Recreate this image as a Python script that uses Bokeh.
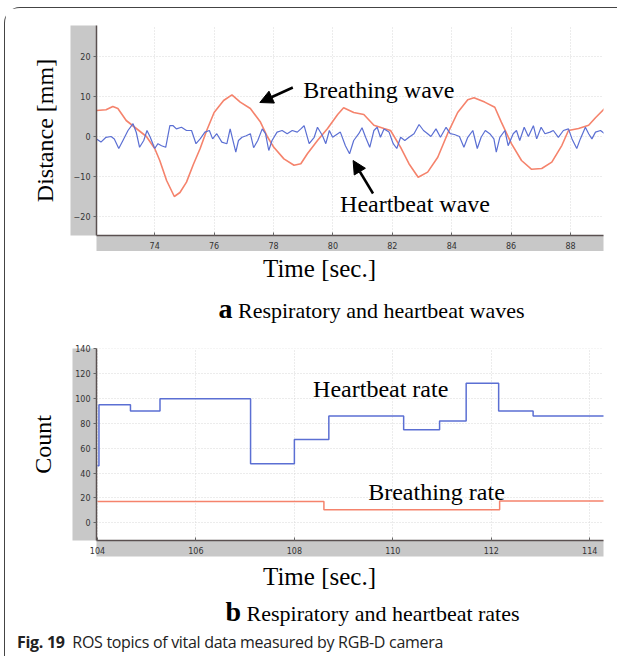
from bokeh.plotting import figure
from bokeh.models import LinearAxis, FixedTicker, Range1d, Div, Arrow, NormalHead, Label
from bokeh.layouts import column
from bokeh.embed import file_html
from bokeh.resources import INLINE

# ---------------- data: panel a (waves) ----------------
hb_wave_t = [72.04, 72.19, 72.36, 72.53, 72.64, 72.79, 72.93, 73.10, 73.27, 73.38, 73.49, 73.63, 73.74, 73.85,
             74.00, 74.11, 74.23, 74.37, 74.51, 74.62, 74.73, 74.90, 75.07, 75.24, 75.39, 75.53, 75.69, 75.84,
             75.95, 76.09, 76.26, 76.43, 76.54, 76.66, 76.73, 76.82, 76.94, 77.08, 77.22, 77.33, 77.47, 77.62,
             77.73, 77.84, 77.95, 78.12, 78.29, 78.46, 78.63, 78.80, 78.92, 79.03, 79.20, 79.37, 79.48, 79.65,
             79.76, 79.88, 79.99,
             80.25, 80.42, 80.56, 80.70, 80.87, 80.98, 81.10, 81.24, 81.38, 81.49, 81.60, 81.72, 81.89, 82.03,
             82.15, 82.28, 82.42, 82.56, 82.73, 82.90, 83.05, 83.19, 83.30, 83.47, 83.62, 83.81, 83.95, 84.09,
             84.26, 84.41, 84.54, 84.71, 84.86, 84.99, 85.13, 85.28, 85.42, 85.50, 85.62, 85.79, 85.90, 86.07,
             86.18, 86.29, 86.44, 86.58, 86.75, 86.86, 87.01, 87.14, 87.31, 87.42, 87.59, 87.76, 87.93, 88.05,
             88.21, 88.33, 88.50, 88.61, 88.72, 88.84, 89.01, 89.15]
hb_wave_v = [-0.6, -1.4, -0.2, 0, -0.6, -3, -1, 1.5, 3.2, 1, -2.7, -1, 1.5, -0.2,
             -3, -1.8, -2.3, -2.7, 2.7, 2.7, 1.9, 2.3, 1.5, 1.5, -1.8, -0.6, 1.1, 1.5,
             -0.6, 0.7, -1.4, -1.8, 1.9, -1.8, -3.9, -1, -0.2, 0.2, 0.7, -2.8, -1, 1.9,
             0.7, -3.5, -1, 1.1, 1.5, 0.7, 1.5, 1.1, 1.9, 2.7, -1.8, -0.2, 2.3, 0.2,
             -1.8, 1.5, -0.2,
             1.1, -2.3, -4.3, -1, 0.7, 2.2, -0.2, -2.7, 1.5, 2.3, -0.2, 1.9, 1.1, -1.8,
             -3, -0.2, -1, -0.2, 0.7, 3, 1.5, 0.7, 0, 1.9, -0.2, 2.3, 0.7, 0.5,
             0, -2.7, -0.2, 1.5, -3, -0.2, 1.5, 0.7, -0.6, -3.9, -0.2, 1.5, -2.3, 0.7,
             1.5, -1, 2.3, 0, 2.7, -0.6, 2.3, 0.7, 1.1, 1.5, -0.2, 1.5, 1.9, -0.6,
             -3, -0.6, 2.3, 0.7, -0.6, 1.1, 1.5, 0.7]

br_wave_t = [72.04, 72.36, 72.59, 72.76, 73.04, 73.38, 73.72, 74.00, 74.17, 74.40, 74.66, 74.85, 75.07, 75.30,
             75.53, 75.75, 76.00, 76.32, 76.60, 76.88, 77.22, 77.56, 77.79, 78.01, 78.35, 78.69, 78.92, 79.14,
             79.48, 79.82, 80.16, 80.36, 80.70, 81.04, 81.38, 81.72, 81.94, 82.28, 82.56, 82.87, 83.19, 83.53,
             83.86, 84.20, 84.54, 84.75, 85.11, 85.45, 85.67, 86.01, 86.35, 86.69, 87.03, 87.37, 87.71, 87.93,
             88.27, 88.61, 88.84, 89.15]
br_wave_v = [6.5, 6.7, 7.5, 7, 4, 2, 0, -3, -6, -11, -15, -14, -11.4, -7,
             -3, 1.5, 6, 9, 10.4, 8.6, 7, 3.6, 0, -2.7, -5.6, -7.2, -6.8, -4.3,
             -1, 2, 5.5, 7.2, 6, 5.5, 2.8, 2, 1.5, -2.7, -6.8, -10.2, -8.9, -5.2,
             0.7, 6, 9.2, 9.7, 8.6, 7.3, 3.6, -1.8, -6, -8.2, -8, -6.4, -2.2, 1.5,
             2, 2.8, 4.7, 7]

a_xticks = [74, 76, 78, 80, 82, 84, 86, 88]
a_yticks = [-20, -10, 0, 10, 20]

# ---------------- data: panel b (rates) ----------------
hb_rate_t = [104.0, 104.03, 104.67, 105.27, 107.11, 108.0, 108.7, 110.22, 110.95, 111.49, 112.15, 112.85, 114.3]
hb_rate_v = [46, 95, 90, 100, 47.5, 67, 86, 75, 82, 112.5, 90, 86, 86]
br_rate_t = [104.0, 108.6, 112.17, 114.3]
br_rate_v = [17.2, 10.5, 17.5, 17.5]

b_xticks = [104, 106, 108, 110, 112, 114]
b_yticks = [0, 20, 40, 60, 80, 100, 120, 140]

SERIF = "Liberation Serif"
GRAY = "#c8c8c8"
RED = "#f5836c"
BLUE = "#5b6fd3"
W = 612
X0 = 5.5  # page x of the content's left edge


def make_panel(height, xr, yr, xticks, yticks, ml, mr, mt, mb, ylabel, ystand):
    p = figure(width=W, height=height, x_range=Range1d(*xr), y_range=Range1d(*yr),
               output_backend="svg", toolbar_location=None,
               min_border_left=ml, min_border_right=mr, min_border_top=mt, min_border_bottom=mb)
    p.outline_line_color = None
    p.border_fill_color = "white"
    p.background_fill_color = "white"
    xa = p.xaxis[0]
    ya = p.yaxis[0]
    for ax in (xa, ya):
        ax.background_fill_color = GRAY
        ax.axis_line_color = "#5a5050"
        ax.axis_line_width = 1.5
        ax.major_tick_line_color = "#666666"
        ax.minor_tick_line_color = None
        ax.major_label_text_font = "DejaVu Sans"
        ax.major_label_text_font_size = "8px"
        ax.major_label_text_color = "#333333"
    xa.ticker = FixedTicker(ticks=xticks)
    ya.ticker = FixedTicker(ticks=yticks)
    xa.major_tick_in = 3
    xa.major_tick_out = 0
    xa.major_label_standoff = 6
    ya.major_tick_in = 0
    ya.major_tick_out = 3
    ya.major_label_standoff = 3
    p.grid.grid_line_color = "#d8d8d8"
    p.grid.grid_line_dash = "1 2"
    p.grid.grid_line_width = 1
    p.xgrid.ticker = FixedTicker(ticks=xticks)
    p.ygrid.ticker = FixedTicker(ticks=yticks)
    lab = LinearAxis(ticker=FixedTicker(ticks=[]), axis_label=ylabel,
                     axis_line_color=None, major_tick_line_color=None, minor_tick_line_color=None,
                     axis_label_text_font=SERIF, axis_label_text_font_size="24px",
                     axis_label_text_font_style="normal", axis_label_text_color="black",
                     axis_label_standoff=ystand)
    p.add_layout(lab, "left")
    return p


# ---- panel a ----
pa = make_panel(243, (72.04, 89.11), (-24.75, 27.75), a_xticks, a_yticks, 91, 14, 17, 16, "Distance [mm]", 13)
pa.line(br_wave_t, br_wave_v, line_color=RED, line_width=1.6)
pa.line(hb_wave_t, hb_wave_v, line_color=BLUE, line_width=1.2)
pa.add_layout(Label(x=79.0, y=11.75, text="Breathing wave", text_font=SERIF, text_font_size="24px",
                    text_baseline="middle", text_color="black"))
pa.add_layout(Arrow(end=NormalHead(size=13, fill_color="black", line_color="black"),
                    x_start=78.65, y_start=12.25, x_end=77.54, y_end=8.5, line_width=2.5, line_color="black"))
pa.add_layout(Label(x=80.24, y=-16.75, text="Heartbeat wave", text_font=SERIF, text_font_size="24px",
                    text_baseline="middle", text_color="black"))
pa.add_layout(Arrow(end=NormalHead(size=13, fill_color="black", line_color="black"),
                    x_start=81.35, y_start=-14.25, x_end=80.68, y_end=-6.0, line_width=2.5, line_color="black"))

# ---- panel b ----
pb = make_panel(228, (103.98, 114.28), (-14.3, 140.4), b_xticks, b_yticks, 86, 14, 18, 18, "Count", 17)
pb.step(br_rate_t, br_rate_v, mode="after", line_color=RED, line_width=1.5)
pb.step(hb_rate_t, hb_rate_v, mode="after", line_color=BLUE, line_width=1.5)
pb.add_layout(Label(x=108.38, y=108, text="Heartbeat rate", text_font=SERIF, text_font_size="24px",
                    text_baseline="middle", text_color="black"))
pb.add_layout(Label(x=109.5, y=24.4, text="Breathing rate", text_font=SERIF, text_font_size="24px",
                    text_baseline="middle", text_color="black"))


def text_div(html, h, center_x, size):
    pad = 2 * (center_x - (X0 + W / 2))
    inner = (f'<div style="width:{W}px;height:{h}px;line-height:{h}px;text-align:center;'
             f'padding-left:{pad}px;box-sizing:border-box;font-family:\'{SERIF}\',serif;font-size:{size}px;'
             f'color:black;white-space:nowrap;">{html}</div>')
    return Div(text=inner, width=W, height=h, margin=(0, 0, 0, 0))


def serif_span(txt, size, bold=False):
    wt = "bold" if bold else "normal"
    return (f'<span style="font-family:\'{SERIF}\',serif;font-size:{size}px;font-weight:{wt};">'
            f'{txt}</span>')


time_a = text_div(serif_span("Time [sec.]", 25), 36, 320, 25)
cap_a = text_div(serif_span("a", 28, True) + "&nbsp;" + serif_span("Respiratory and heartbeat waves", 22),
                 43, 372, 22)
time_b = text_div(serif_span("Time [sec.]", 25), 38, 320, 25)
cap_b = text_div(serif_span("b", 28, True) + "&nbsp;" + serif_span("Respiratory and heartbeat rates", 22),
                 32, 373, 22)
fig_cap = Div(text=('<div style="height:28px;line-height:28px;padding-left:12px;font-family:\'Open Sans\';'
                    'font-size:16px;letter-spacing:-0.3px;color:#222;white-space:nowrap;"><b>Fig. 19</b>&nbsp; '
                    'ROS topics of vital data measured by RGB-D camera</div>'),
              width=W, height=28, margin=(0, 0, 0, 0))

layout = column(pa, time_a, cap_a, pb, time_b, cap_b, fig_cap, margin=(7, 0, 0, 4),
                styles={"border-left": "1.5px solid #444", "border-top": "1.5px solid #444",
                        "border-top-left-radius": "16px"})

open("out.html", "w").write(file_html(layout, INLINE))
